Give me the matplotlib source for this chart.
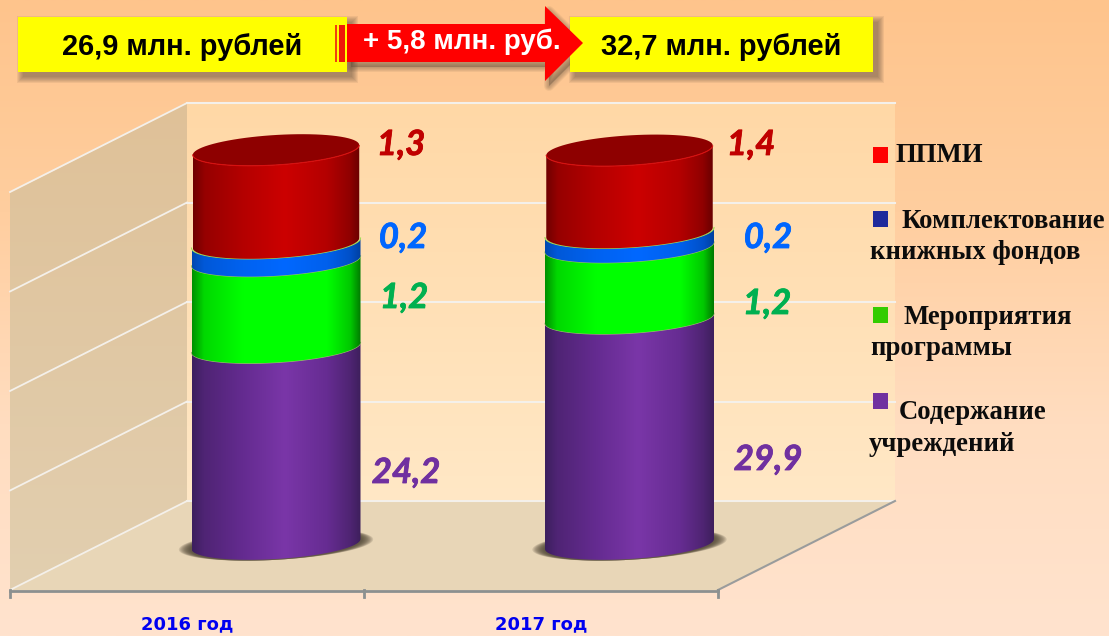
import numpy as np
import matplotlib
matplotlib.use("Agg")
import matplotlib.pyplot as plt
import matplotlib.patheffects as pe
from matplotlib.colors import LinearSegmentedColormap
from matplotlib.patches import Polygon, Rectangle

# Chart data
years = ["2016 год", "2017 год"]
series = ["Содержание учреждений", "Мероприятия программы", "Комплектование книжных фондов", "ППМИ"]
labels_2016 = ["24,2", "1,2", "0,2", "1,3"]
labels_2017 = ["29,9", "1,2", "0,2", "1,4"]
# heights as drawn, in gridline steps (the picture is not to scale with its labels)
drawn_2016 = [1.985, 0.875, 0.18, 0.94]
drawn_2017 = [2.28, 0.72, 0.146, 0.83]
grid_levels = [0, 1, 2, 3, 4]
total_2016 = "26,9 млн. рублей"
total_2017 = "32,7 млн. рублей"
delta = "+ 5,8 млн. руб."

W, H = 1109, 636
fig = plt.figure(figsize=(W / 100, H / 100), dpi=100)

# pixel axes for the backdrop and annotations
bg = fig.add_axes([0, 0, 1, 1])
bg.set_xlim(0, W)
bg.set_ylim(H, 0)
bg.axis("off")

grad = LinearSegmentedColormap.from_list("bg", ["#FEC48C", "#FFCE9F", "#FFDDC0", "#FFE3CE"])
bg.imshow(np.linspace(0, 1, 256).reshape(-1, 1), cmap=grad, extent=(0, W, H, 0), aspect="auto", zorder=0)
bg.set_xlim(0, W)
bg.set_ylim(H, 0)


def gradient_poly(axis, points, cmap, extent, vertical=False, z=1):
    patch = Polygon(points, closed=True, fc="none", ec="none", transform=axis.transData)
    axis.add_patch(patch)
    data = np.linspace(0, 1, 256)
    data = data.reshape(-1, 1) if vertical else data.reshape(1, -1)
    im = axis.imshow(data, cmap=cmap, extent=extent, aspect="auto", zorder=z)
    im.set_clip_path(patch)
    return im


# walls and floor
back_cmap = LinearSegmentedColormap.from_list("back", ["#FFD8A6", "#FFE8C6"])
left_cmap = LinearSegmentedColormap.from_list("left", ["#DFC198", "#E2CFB0"])
gradient_poly(bg, [(187, 103), (895, 103), (895, 501), (187, 501)], back_cmap, (187, 895, 501, 103), True)
gradient_poly(bg, [(187, 103), (187, 501), (10, 590), (10, 193)], left_cmap, (10, 187, 590, 103), True)
bg.add_patch(Polygon([(187, 501), (895, 501), (718, 590), (10, 590)], fc="#E8D6B7", ec="none", zorder=1))

for g in grid_levels:
    y = 501 - g * 99.5
    bg.plot([187, 895], [y, y], color="#F4F0EA", lw=1.5, zorder=2)
    bg.plot([10, 187], [y + 89, y], color="#F4F0EA", lw=1.3, zorder=2)
bg.plot([718, 895], [590, 501], color="#9A9C9C", lw=1.5, zorder=2)
bg.plot([10, 718], [590.5, 590.5], color="#8C9090", lw=2, zorder=3)
for x in [10, 364, 718]:
    bg.plot([x, x], [590, 597], color="#8C9090", lw=2, zorder=3)

# cylinders
ax = fig.add_axes([0, 0, 1, 1], facecolor="none")
ax.axis("off")
cat_px = 353.5
val_px = 99.0
ax.set_xlim(-276 / cat_px, (W - 276) / cat_px)
ax.set_ylim(-(H - 544) / val_px, 544 / val_px)

bar_width = 169 / cat_px
ry = 15 / val_px
tilt = 0.2125

stops = [0.0, 0.07, 0.3, 0.55, 0.8, 0.94, 1.0]
seg_cmaps = [
    ["#3C1F5E", "#4F2474", "#642B90", "#7A36A8", "#662C92", "#4E2472", "#3E1F5C"],
    ["#009000", "#00D800", "#00FF00", "#00FF00", "#00FF00", "#00C800", "#007A00"],
    ["#0048B0", "#0058D8", "#0062F0", "#0068FF", "#0060EC", "#0050C8", "#0040A0"],
    ["#700000", "#960000", "#B40000", "#CC0000", "#B40000", "#900000", "#6A0000"],
]
rim_colors = ["#A9B07A", "#9CC35A", "#9FE050", "#D81010"]


def arc(xc, level, w, t0=np.pi, t1=0.0):
    t = np.linspace(t0, t1, 80)
    x = xc + w / 2 * np.cos(t)
    y = level - ry * np.sin(t) + tilt * (x - xc)
    return np.column_stack([x, y])


for xc, drawn in zip([0, 1], [drawn_2016, drawn_2017]):
    # contact shadow on the floor
    base = arc(xc, 0, bar_width, np.pi, -np.pi)
    for k in range(10):
        scale = 1.15 - k * 0.015
        pts = np.column_stack([xc + (base[:, 0] - xc) * scale, base[:, 1] * 1.02 - 0.005])
        ax.add_patch(Polygon(pts, fc="#4A4030", ec="none", alpha=0.16, zorder=3))

    bottoms = np.concatenate([[0], np.cumsum(drawn)[:-1]])
    for i, (h, b) in enumerate(zip(drawn, bottoms)):
        w = bar_width * (0.985 if i == 3 else 1.0)
        lo = arc(xc, b, w)
        hi = arc(xc, b + h, w)
        pts = np.vstack([lo, hi[::-1]])
        cmap = LinearSegmentedColormap.from_list("s%d" % i, list(zip(stops, seg_cmaps[i])))
        gradient_poly(ax, pts, cmap, (xc - w / 2, xc + w / 2, b - 0.5, b + h + 0.5), z=4 + i)
        if i < 3:
            ax.plot(hi[:, 0], hi[:, 1], color=rim_colors[i], lw=0.8, zorder=4.5 + i)

    # top cap
    top = sum(drawn)
    w = bar_width * 0.985
    cap = arc(xc, top, w, np.pi, -np.pi)
    ax.add_patch(Polygon(cap, fc="#8E0000", ec="none", zorder=9))
    ax.plot(cap[:40, 0], cap[:40, 1], color=rim_colors[3], lw=0.8, zorder=9.5)

# year labels
for xc, name in zip([187, 541], years):
    bg.text(xc, 624, name, ha="center", va="center", color="#0000F0", fontsize=13,
            fontweight="bold", family="DejaVu Sans", zorder=20)

# value labels
label_colors = ["#7030A0", "#00B050", "#0066FF", "#C00000"]
label_pos_2016 = [(406, 473), (404, 298), (403, 238), (401, 145)]
label_pos_2017 = [(768, 460), (767, 304), (768, 238), (751, 145)]
for texts, spots in [(labels_2016, label_pos_2016), (labels_2017, label_pos_2017)]:
    for txt, (x, y), c in zip(texts, spots, label_colors):
        fig.text(x / W, 1 - y / H, txt, ha="center", va="center", color=c, fontsize=25,
                 fontweight="bold", style="italic", family="Lato", zorder=30,
                 path_effects=[pe.withStroke(linewidth=0.6, foreground=c)])


# header boxes
def box_shadow(x0, y0, x1, y1):
    for k in range(7):
        d = 7 - k
        bg.add_patch(Rectangle((x0 + 6 - d, y0 + 6 - d), x1 - x0 + 2 * d - 2, y1 - y0 + 2 * d - 2,
                               fc="#5A4A3A", ec="none", alpha=0.09, zorder=10))


box_shadow(18, 17, 347, 72)
box_shadow(570, 17, 873, 72)

arrow = [(347, 24), (545, 24), (545, 6), (583, 43), (545, 81), (545, 62), (347, 62)]
for k in range(6):
    pts = [(x + 4, y + 5) for x, y in arrow]
    bg.add_patch(Polygon(pts, fc="#5A4A3A", ec="#5A4A3A", lw=(6 - k) * 1.2, alpha=0.07,
                         joinstyle="round", zorder=11))

bg.add_patch(Rectangle((18, 17), 329, 55, fc="#FFFF00", ec="none", zorder=12))
bg.add_patch(Rectangle((570, 17), 303, 55, fc="#FFFF00", ec="none", zorder=12))
bg.add_patch(Polygon(arrow, fc="#FF0000", ec="none", zorder=13))
bg.add_patch(Rectangle((335, 25), 2, 37, fc="#F04010", ec="none", zorder=14))
bg.add_patch(Rectangle((339, 25), 6, 37, fc="#F01808", ec="none", zorder=14))

bg.text(182.5, 47, total_2016, ha="center", va="center", fontsize=20.9, fontweight="bold",
        family="Liberation Sans", color="black", zorder=15)
bg.text(721, 47, total_2017, ha="center", va="center", fontsize=20.9, fontweight="bold",
        family="Liberation Sans", color="black", zorder=15)
bg.text(462, 42, delta, ha="center", va="center", fontsize=20, fontweight="bold",
        family="Liberation Sans", color="white", zorder=15)

# legend, written out by hand as on the slide
legend_colors = ["#FF0000", "#1F2A9C", "#33CC00", "#7030A0"]
legend_squares = [147, 211, 307, 393]
legend_lines = [
    [("ППМИ", 895, 162)],
    [("Комплектование", 901, 228), ("книжных фондов", 870, 259)],
    [("Мероприятия", 904, 324), ("программы", 870, 355)],
    [("Содержание", 899, 419), ("учреждений", 869, 451)],
]
for c, y, lines in zip(legend_colors, legend_squares, legend_lines):
    bg.add_patch(Rectangle((873, y), 15, 16, fc=c, ec="none", zorder=16))
    for txt, x, base_y in lines:
        bg.text(x, base_y, txt, ha="left", va="baseline", fontsize=19.3, fontweight="bold",
                family="Liberation Serif", color="#0C0C0C", zorder=16)

fig.savefig("out.png", dpi=100)
